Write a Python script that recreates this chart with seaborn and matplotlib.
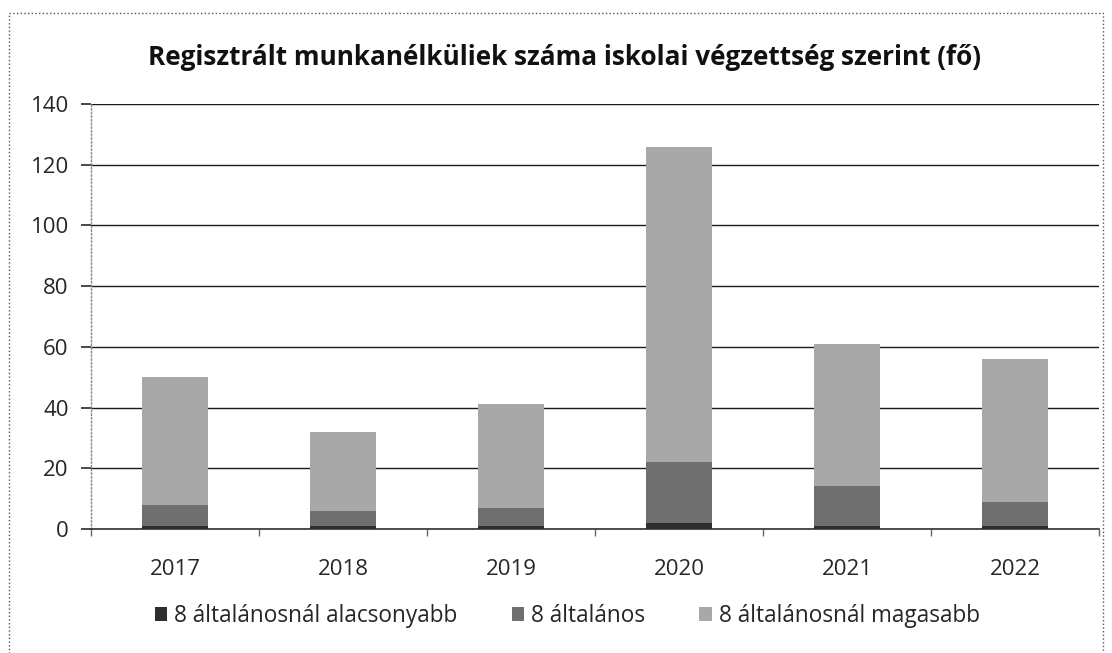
import matplotlib
matplotlib.use("Agg")
import matplotlib.pyplot as plt
import seaborn as sns
import pandas as pd
import numpy as np
from matplotlib.patches import Rectangle, Patch

years = ["2017", "2018", "2019", "2020", "2021", "2022"]
alacsonyabb = [1, 1, 1, 2, 1, 1]
altalanos = [7, 5, 6, 20, 13, 8]
magasabb = [42, 26, 34, 104, 47, 47]
series_names = ["8 általánosnál alacsonyabb", "8 általános", "8 általánosnál magasabb"]
title = "Regisztrált munkanélküliek száma iskolai végzettség szerint (fő)"
yticks = [0, 20, 40, 60, 80, 100, 120, 140]

colors = ["#2e2e2e", "#6f6f6f", "#a8a8a8"]

sns.set_theme(style="white")
plt.rcParams["font.family"] = ["Open Sans", "DejaVu Sans"]

fig = plt.figure(figsize=(11.12, 6.53), dpi=100)
ax = fig.add_axes([0.0818, 0.19, 0.9065, 0.6507])

df = pd.DataFrame({"year": years, "a": alacsonyabb, "b": altalanos, "c": magasabb})
df["cum_a"] = df["a"]
df["cum_b"] = df["a"] + df["b"]
df["cum_c"] = df["a"] + df["b"] + df["c"]

for col, color in [("cum_c", colors[2]), ("cum_b", colors[1]), ("cum_a", colors[0])]:
    sns.barplot(data=df, x="year", y=col, color=color, width=0.39, ax=ax,
                saturation=1, edgecolor="none", linewidth=0, zorder=3)

ax.set_ylim(0, 140)
ax.set_xlim(-0.5, 5.5)
ax.set_yticks(yticks)
ax.set_yticklabels([str(v) for v in yticks], fontsize=16)
ax.set_xticklabels(years, fontsize=16)
ax.set_xlabel("")
ax.set_ylabel("")
ax.yaxis.grid(True, color="#1a1a1a", linewidth=1.0, linestyle="-")
ax.set_axisbelow(True)
for s in ["top", "right"]:
    ax.spines[s].set_visible(False)
ax.spines["left"].set_color("#888888")
ax.spines["left"].set_linestyle(":")
ax.spines["left"].set_linewidth(1.0)
ax.spines["bottom"].set_color("#333333")
ax.spines["bottom"].set_linewidth(1.2)
ax.tick_params(axis="y", left=True, length=7, color="#333333", pad=9)
ax.tick_params(axis="x", bottom=False, pad=16)
ax.set_xticks(np.arange(-0.5, 6.0, 1.0), minor=True)
ax.tick_params(axis="x", which="minor", bottom=True, length=5, color="#666666")

fig.text(0.508, 0.912, title, ha="center", va="center", fontsize=18.8,
         fontweight="bold", color="#111111")

handles = [Patch(facecolor=c, edgecolor="none") for c in colors]
fig.legend(handles, series_names, loc="center", bbox_to_anchor=(0.51, 0.057),
           ncol=3, frameon=False, fontsize=16.3, handlelength=0.55, handleheight=0.55,
           handletextpad=0.3, columnspacing=2.4)

fig.patches.append(Rectangle((0.008, -0.01), 0.984, 0.99, transform=fig.transFigure,
                             fill=False, edgecolor="#555555", linestyle=":",
                             linewidth=1.0))

fig.savefig("out.png", dpi=100)
